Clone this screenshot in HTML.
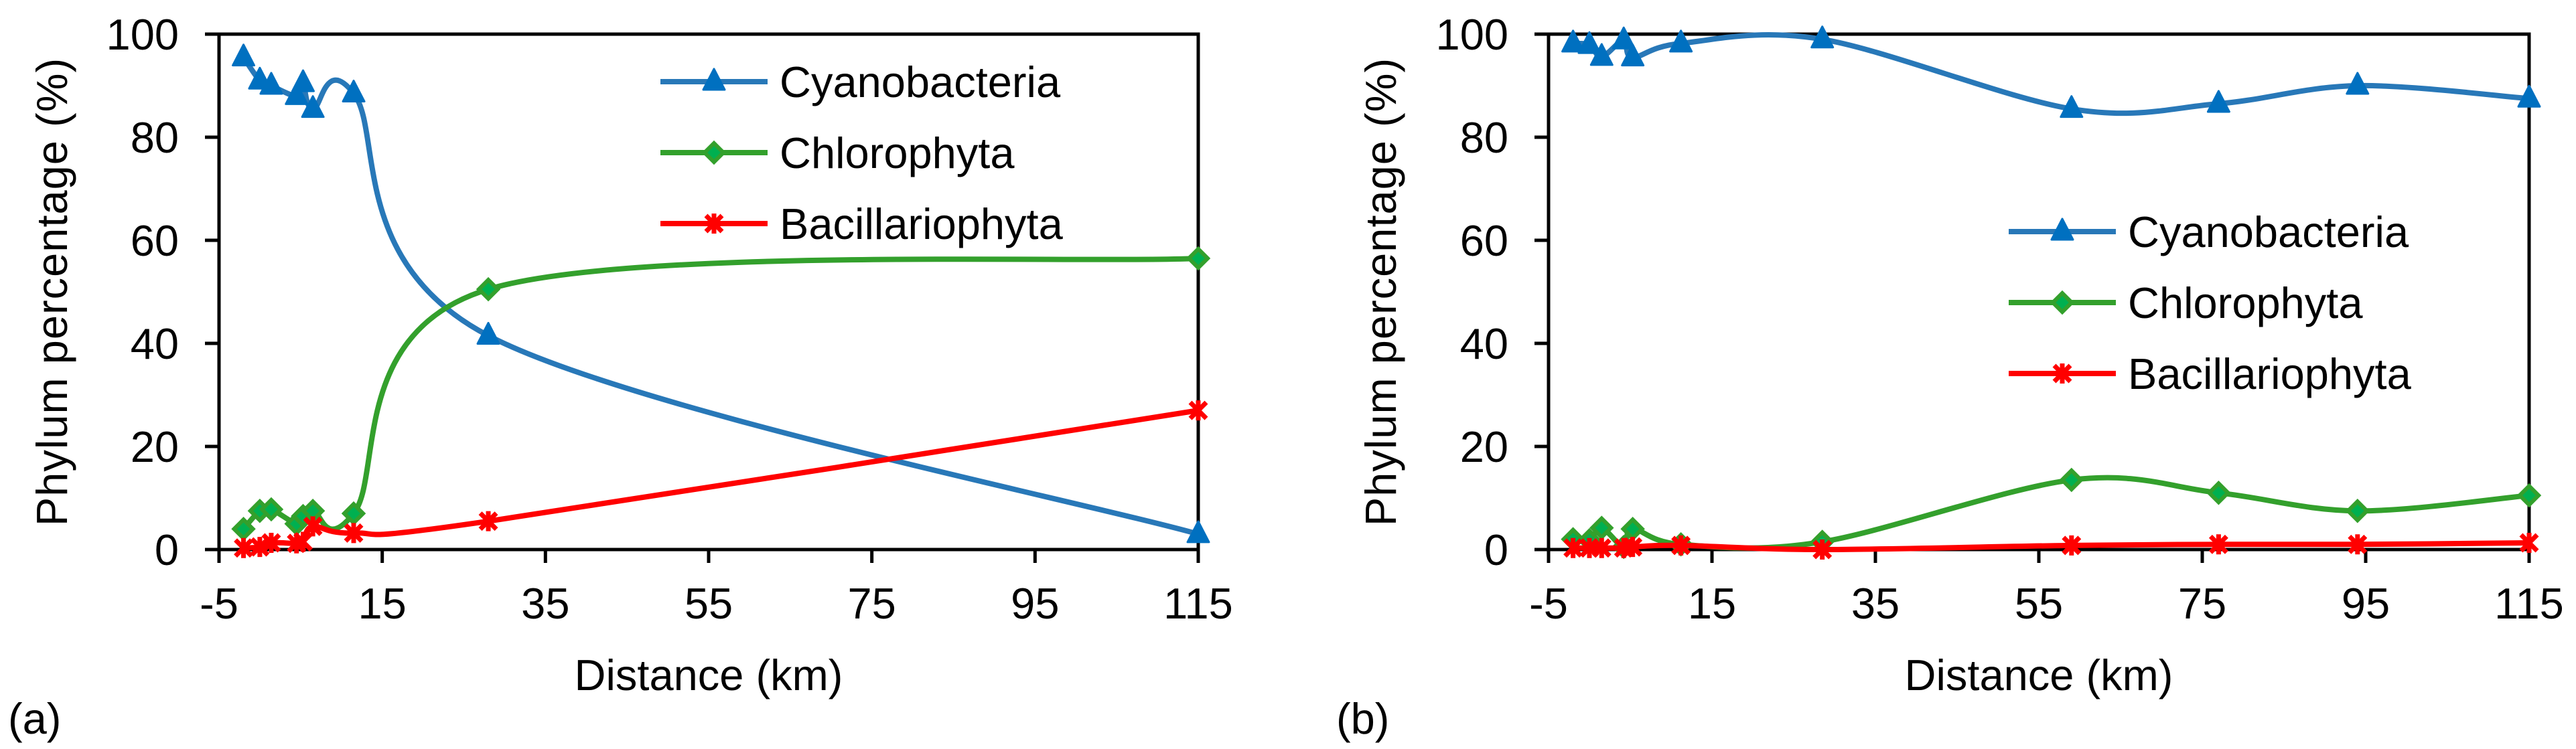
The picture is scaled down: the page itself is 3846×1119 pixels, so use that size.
<!DOCTYPE html>
<html><head><meta charset="utf-8">
<style>
html,body{margin:0;padding:0;background:#fff;}
svg{display:block;font-family:"Liberation Sans",Arial,sans-serif;}
</style></head>
<body>
<svg id="chart" width="3846" height="1119" viewBox="0 0 3846 1119" xmlns="http://www.w3.org/2000/svg"></svg>
<script>
const xTicks = [-5, 15, 35, 55, 75, 95, 115];
const yTicks = [0, 20, 40, 60, 80, 100];
const seriesNames = ["Cyanobacteria", "Chlorophyta", "Bacillariophyta"];
const distA = [-2, 0, 1.4, 4.5, 5.3, 6.5, 11.5, 28, 115];
const cyanoA = [95.5, 91, 90, 88, 90.5, 85.5, 88.5, 41.5, 3];
const chloroA = [4, 7.5, 7.8, 5, 6.5, 7.5, 7, 50.5, 56.5];
const bacilA = [0.3, 0.5, 1.3, 1.2, 1.5, 4.5, 3.2, 5.5, 27];
const distB = [-2, 0, 1.5, 4.2, 5.3, 11.2, 28.5, 59, 77, 94, 115];
const cyanoB = [98.2, 97.9, 95.6, 98.8, 95.5, 98.2, 99, 85.5, 86.5, 90, 87.5];
const chloroB = [2, 1.8, 4.2, 0.5, 4.0, 1.0, 1.5, 13.5, 11, 7.5, 10.5];
const bacilB = [0.3, 0.3, 0.3, 0.3, 0.5, 0.8, 0, 0.8, 1, 1, 1.3];

const NS = "http://www.w3.org/2000/svg";
const svg = document.getElementById("chart");
function mk(tag, attrs, parent) {
  const e = document.createElementNS(NS, tag);
  for (const k in attrs) e.setAttribute(k, attrs[k]);
  (parent || svg).appendChild(e);
  return e;
}
const colors = {line: ["#2878b8", "#33a02c", "#ff0000"], mark: ["#0070c0", "#00b050", "#ff0000"]};

function smoothPath(pts) {
  let d = "M" + pts[0][0] + "," + pts[0][1];
  const t = 1 / 6;
  for (let i = 0; i < pts.length - 1; i++) {
    const p0 = pts[i - 1] || pts[i], p1 = pts[i], p2 = pts[i + 1], p3 = pts[i + 2] || pts[i + 1];
    const c1 = [p1[0] + (p2[0] - p0[0]) * t, p1[1] + (p2[1] - p0[1]) * t];
    const c2 = [p2[0] - (p3[0] - p1[0]) * t, p2[1] - (p3[1] - p1[1]) * t];
    d += " C" + c1 + " " + c2 + " " + p2;
  }
  return d;
}
function marker(g, kind, x, y, name) {
  let e;
  if (kind === 0) {
    e = mk("path", {d: `M${x},${y-19} L${x+16},${y+12} L${x-16},${y+12} Z`, fill: colors.mark[0], stroke: colors.mark[0], "stroke-width": 3, "stroke-linejoin": "round"}, g);
  } else if (kind === 1) {
    e = mk("path", {d: `M${x},${y-14} L${x+14},${y} L${x},${y+14} L${x-14},${y} Z`, fill: colors.mark[1], stroke: colors.line[1], "stroke-width": 6}, g);
  } else {
    e = mk("path", {d: `M${x-12},${y-12} L${x+12},${y+12} M${x+12},${y-12} L${x-12},${y+12} M${x},${y-15} L${x},${y+15}`, stroke: colors.mark[2], "stroke-width": 7, fill: "none"}, g);
  }
  
  
}

function panel(id, left, right, dist, series, legendX, legendY, titleX, panelLabel, labelX) {
  const top = 51, bottom = 821;
  const xs = v => left + (v - xTicks[0]) / (xTicks[xTicks.length - 1] - xTicks[0]) * (right - left);
  const ys = v => bottom - v / 100 * (bottom - top);
  const g = mk("g", {});
  
  
  // frame
  const fr = mk("rect", {x: left, y: top, width: right - left, height: bottom - top, fill: "none", stroke: "#000", "stroke-width": 5}, g);
  
  
  yTicks.forEach(v => {
    const tk = mk("line", {x1: left - 21, x2: left, y1: ys(v), y2: ys(v), stroke: "#000", "stroke-width": 5}, g);
    
    
    const t = mk("text", {x: left - 60, y: ys(v) + 23, "text-anchor": "end", "font-size": 65}, g);
    t.textContent = v;
    
    
  });
  xTicks.forEach(v => {
    const tk = mk("line", {x1: xs(v), x2: xs(v), y1: bottom, y2: bottom + 20, stroke: "#000", "stroke-width": 5}, g);
    
    
    const t = mk("text", {x: xs(v), y: 924, "text-anchor": "middle", "font-size": 65}, g);
    t.textContent = v;
    
    
  });
  const yt = mk("text", {x: 0, y: 0, transform: `translate(${titleX},${(top + bottom) / 2}) rotate(-90)`, "text-anchor": "middle", "font-size": 65, "letter-spacing": 1}, g);
  yt.textContent = "Phylum percentage (%)";
  
  
  const xt = mk("text", {x: (left + right) / 2, y: 1031, "text-anchor": "middle", "font-size": 65}, g);
  xt.textContent = "Distance (km)";
  
  
  const pl = mk("text", {x: labelX, y: 1096, "font-size": 65}, g);
  pl.textContent = panelLabel;
  
  
  // series
  series.forEach((vals, k) => {
    const pts = vals.map((v, i) => [xs(dist[i]), ys(v)]);
    const sg = mk("g", {}, g);
    
    
    const p = mk("path", {d: smoothPath(pts), fill: "none", stroke: colors.line[k], "stroke-width": 8, "stroke-linejoin": "round"}, sg);
    
    
    pts.forEach(pt => marker(sg, k, pt[0], pt[1], 'point-' + seriesNames[k].toLowerCase()));
  });
  // legend
  seriesNames.forEach((n, k) => {
    const y = legendY + k * 106;
    const lg = mk("g", {}, g);
    
    
    mk("line", {x1: legendX, x2: legendX + 160, y1: y, y2: y, stroke: colors.line[k], "stroke-width": 8}, lg);
    marker(lg, k, legendX + 80, y, 'legend-marker');
    const t = mk("text", {x: legendX + 178, y: y + 23, "font-size": 65}, lg);
    t.textContent = n;
  });
}

panel("a", 327, 1789, distA, [cyanoA, chloroA, bacilA], 986, 122, 100, "(a)", 12);
panel("b", 2312, 3776, distB, [cyanoB, chloroB, bacilB], 2999, 346, 2084, "(b)", 1995);
</script>
</body></html>
